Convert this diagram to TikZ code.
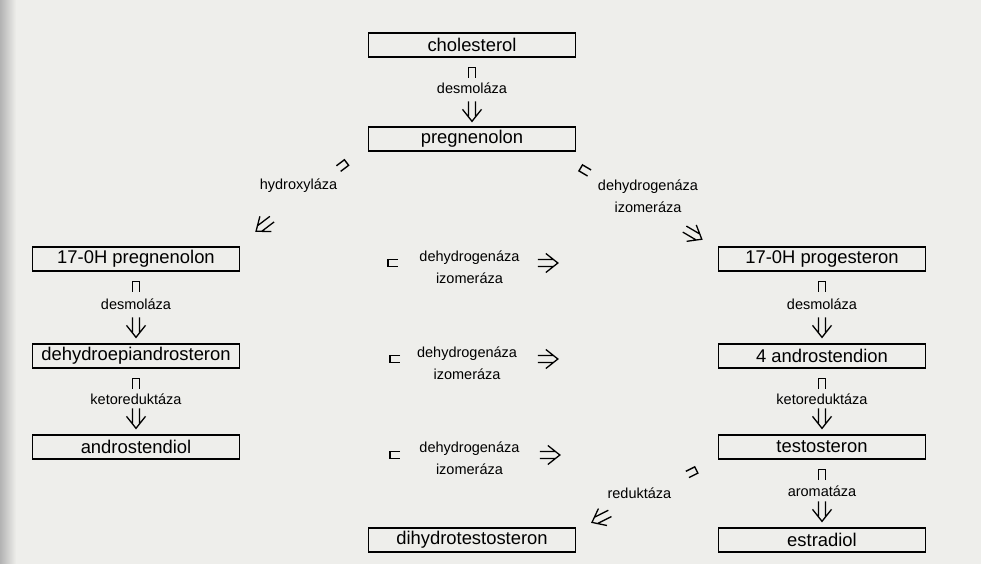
\documentclass[tikz,border=0pt]{standalone}
\usepackage{fontspec}
\setmainfont{Liberation Sans}
\usetikzlibrary{decorations.markings}

\definecolor{papir}{RGB}{238,238,235}

\begin{document}
\begin{tikzpicture}[x=1pt, y=-1pt,
        latka/.style={draw, line width=1.3pt, minimum width=207pt, minimum height=24pt, inner sep=0pt, font=\fontsize{18.4}{22}\selectfont},
        enzym/.style={font=\fontsize{14.5}{22}\selectfont, align=center, inner sep=0pt},
        ocas/.pic={\draw[line width=1.4pt] (10,-3.5) -- (0,-3.5) -- (0,3.5) -- (10,3.5);},
        hrot/.pic={\draw[line width=1.3pt] (-20,-3.5) -- (-4.8,-3.5) (-20,3.5) -- (-4.8,3.5) (-12,-9.5) -- (0,0) -- (-12,9.5);},
        reakce/.style 2 args={postaction={decorate, decoration={markings,
            mark=at position #1 with {\pic[transform shape]{ocas};},
            mark=at position -#2 with {\pic[transform shape]{hrot};}}}}
    ]
        \useasboundingbox (0,0) rectangle (981,564);
        
        % Paper
        \fill[papir] (0,0) rectangle (981,564);
        \shade[left color=black!30, right color=papir] (0,0) rectangle (16,564);
        
        % Steroids
        \node[latka] (chol) at (472,45) {cholesterol};
        \node[latka] (preg) at (472,139) {pregnenolon};
        \node[latka] (ohpreg) at (136,259) {17-0H pregnenolon};
        \node[latka] (ohprog) at (822,259) {17-0H progesteron};
        \node[latka] (dhea) at (136,356) {dehydroepiandrosteron};
        \node[latka] (andro) at (822,356) {4 androstendion};
        \node[latka] (diol) at (136,447) {androstendiol};
        \node[latka] (testo) at (822,447) {testosteron};
        \node[latka] (dht) at (472,540) {dihydrotestosteron};
        \node[latka] (estra) at (822,540) {estradiol};
        
        % Top
        \path[reakce={10pt}{5pt}] (chol) -- (preg) node[enzym, pos=.45] {desmoláza};
        \path[reakce={18pt}{25pt}] ([xshift=-7pt]preg.south west) -- ([xshift=-4pt]ohpreg.north east)
            node[enzym, pos=.5, yshift=13pt] {hydroxyláza};
        \path[reakce={32pt}{14pt}] ([xshift=-23pt]preg.south east) -- ([xshift=-4pt]ohprog.north west)
            node[enzym, pos=.59, yshift=11pt] {dehydrogenáza\\izomeráza};
        
        % Left column
        \path[reakce={10pt}{6pt}] (ohpreg) -- (dhea) node[enzym, pos=.46] {desmoláza};
        \path[reakce={10pt}{6pt}] (dhea) -- (diol) node[enzym, pos=.46] {ketoreduktáza};
        
        % Right column
        \path[reakce={10pt}{6pt}] (ohprog) -- (andro) node[enzym, pos=.46] {desmoláza};
        \path[reakce={10pt}{6pt}] (andro) -- (testo) node[enzym, pos=.46] {ketoreduktáza};
        \path[reakce={10pt}{6pt}] (testo) -- (estra) node[enzym, pos=.46] {aromatáza};
        
        % Across
        \path[reakce={148pt}{160pt}] ([yshift=-4pt]ohpreg.east) -- ([yshift=-4pt]ohprog.west)
            node[enzym, pos=.48, yshift=-4pt] {dehydrogenáza\\izomeráza};
        \path[reakce={150pt}{160pt}] ([yshift=-3pt]dhea.east) -- ([yshift=-3pt]andro.west)
            node[enzym, pos=.475, yshift=-4pt] {dehydrogenáza\\izomeráza};
        \path[reakce={150pt}{158pt}] ([yshift=-8pt]diol.east) -- ([yshift=-8pt]testo.west)
            node[enzym, pos=.48, yshift=-3pt] {dehydrogenáza\\izomeráza};
        
        % Bottom
        \path[reakce={23pt}{11pt}] ([xshift=-1pt]testo.south west) -- ([xshift=6pt]dht.north east)
            node[enzym, pos=.575, yshift=5pt] {reduktáza};
        
    \end{tikzpicture}
\end{document}
